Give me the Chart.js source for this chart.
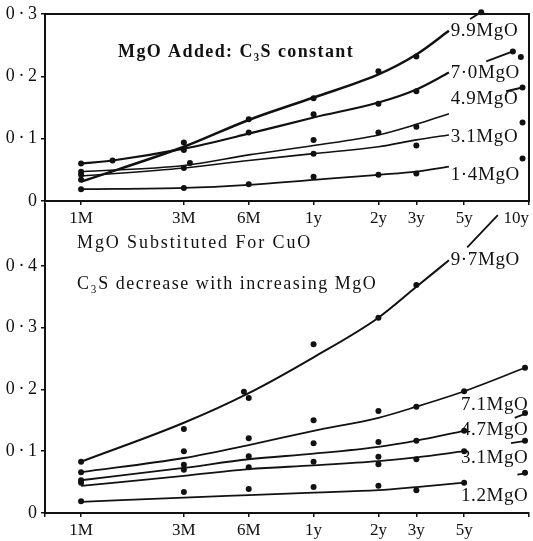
<!DOCTYPE html>
<html>
<head>
<meta charset="utf-8">
<script src="https://cdn.jsdelivr.net/npm/chart.js@4.4.0/dist/chart.umd.min.js"></script>
<style>
  body { margin: 0; background: #fff; }
  #wrap { position: relative; width: 533px; height: 541px; }
  #topChart { position: absolute; left: 0; top: 0; }
  #bottomChart { position: absolute; left: 0; top: 200px; }
</style>
</head>
<body>
<div id="wrap">
  <canvas id="bottomChart" width="533" height="341"></canvas>
  <canvas id="topChart" width="533" height="228"></canvas>
</div>
<script>
// time axis (months, log scale); first tick is the empty axis start
const xTickMonths = [0.68, 1, 3, 6, 12, 24, 36, 60, 120];
const topTickLabels = ['', '1M', '3M', '6M', '1y', '2y', '3y', '5y', '10y'];
const bottomTickLabels = ['', '1M', '3M', '6M', '1y', '2y', '3y', '5y', ''];
const topYTicks = [0, 0.1, 0.2, 0.3];
const bottomYTicks = [0, 0.1, 0.2, 0.3, 0.4];

// top panel: MgO added, C3S constant
const topNames = ['9.9MgO', '7·0MgO', '4.9MgO', '3.1MgO', '1·4MgO'];
const topDots99 = [[1, 0.034], [3, 0.094], [6, 0.131], [12, 0.165], [24, 0.208], [36, 0.232], [72, 0.303]];
const topDots70 = [[1, 0.060], [1.4, 0.065], [3, 0.082], [6, 0.110], [12, 0.139], [24, 0.156], [36, 0.176], [101, 0.240], [110, 0.231]];
const topDots49 = [[1, 0.047], [3.2, 0.061], [12, 0.098], [24, 0.110], [36, 0.119], [112, 0.182]];
const topDots31 = [[1, 0.042], [3, 0.053], [12, 0.076], [36, 0.089], [112, 0.126]];
const topDots14 = [[1, 0.019], [3, 0.021], [6, 0.027], [12, 0.039], [24, 0.042], [36, 0.044], [112, 0.068]];
const topCurve99 = [[1, 0.031], [3, 0.087], [6, 0.130], [12, 0.166], [24, 0.203], [36, 0.235], [51, 0.273]];
const topCurve70 = [[1, 0.060], [1.4, 0.065], [3, 0.084], [6, 0.108], [12, 0.134], [24, 0.158], [36, 0.179], [51, 0.206]];
const topCurve49 = [[1, 0.047], [3, 0.057], [6, 0.074], [12, 0.089], [24, 0.106], [36, 0.123], [51, 0.140]];
const topCurve31 = [[1, 0.040], [3, 0.053], [6, 0.065], [12, 0.076], [24, 0.087], [36, 0.098], [51, 0.106]];
const topCurve14 = [[1, 0.019], [3, 0.021], [6, 0.026], [12, 0.034], [24, 0.042], [36, 0.047], [51, 0.055]];
const topTail99 = [[64, 0.292], [72, 0.303]];
const topTail70 = [[76, 0.224], [101, 0.240]];
const topTail49 = [[94, 0.176], [112, 0.182]];

// bottom panel: MgO substituted for CuO
const bottomNames = ['9·7MgO', '7.1MgO', '4.7MgO', '3.1MgO', '1.2MgO'];
const botDots97 = [[1, 0.083], [3, 0.136], [5.7, 0.196], [6, 0.186], [12, 0.273], [24, 0.316], [36, 0.369]];
const botDots71 = [[1, 0.066], [3, 0.100], [6, 0.121], [12, 0.150], [24, 0.165], [36, 0.172], [60, 0.197], [115, 0.235]];
const botDots47 = [[1, 0.053], [3, 0.078], [6, 0.092], [12, 0.113], [24, 0.115], [36, 0.117], [60, 0.133], [115, 0.162]];
const botDots31 = [[1, 0.049], [3, 0.070], [6, 0.074], [12, 0.083], [24, 0.091], [24, 0.079], [36, 0.087], [60, 0.100], [115, 0.117]];
const botDots12 = [[1, 0.019], [3, 0.034], [6, 0.039], [12, 0.042], [24, 0.044], [36, 0.037], [60, 0.049], [115, 0.065]];
const botCurve97 = [[1, 0.083], [3, 0.146], [6, 0.194], [12, 0.252], [24, 0.316], [36, 0.366], [51, 0.409]];
const botCurve71 = [[1, 0.066], [3, 0.089], [6, 0.110], [12, 0.133], [24, 0.154], [36, 0.172], [60, 0.197], [115, 0.235]];
const botCurve47 = [[1, 0.053], [3, 0.073], [6, 0.087], [12, 0.096], [24, 0.107], [36, 0.117], [60, 0.133]];
const botCurve31 = [[1, 0.044], [3, 0.060], [6, 0.071], [12, 0.077], [24, 0.084], [36, 0.090], [60, 0.100]];
const botCurve12 = [[1, 0.018], [3, 0.025], [6, 0.029], [12, 0.033], [24, 0.037], [36, 0.042], [60, 0.049]];
const botTail97 = [[62, 0.430], [86, 0.482]];
const botTail47 = [[103, 0.154], [118, 0.162]];
const botTail31 = [[99, 0.113], [118, 0.117]];
const botTail12 = [[106, 0.062], [118, 0.065]];

const INK = '#111';
const SERIF = '"Liberation Serif", "DejaVu Serif", serif';

function toXY(points) {
    return points.map(p => ({ x: p[0], y: p[1] }));
}

function curve(points, width) {
    return {
        data: toXY(points), borderColor: INK, borderWidth: width,
        pointRadius: 0, cubicInterpolationMode: 'monotone', fill: false, clip: false
    };
}

function dots(points) {
    return {
        data: toXY(points), showLine: false, pointRadius: 3,
        pointBackgroundColor: INK, pointBorderWidth: 0, clip: false
    };
}

function fmtY(v) {
    return v === 0 ? '0' : v.toFixed(1).replace('.', '\u2009·\u2009');
}

// texts and frame drawn on top of the plot
const notes = {
    id: 'notes',
    afterDraw(chart, args, opts) {
        const { ctx, chartArea, scales } = chart;
        ctx.save();
        if (opts.frame) {
            ctx.strokeStyle = INK;
            ctx.lineWidth = 2;
            ctx.strokeRect(chartArea.left, chartArea.top, chartArea.right - chartArea.left, chartArea.bottom - chartArea.top);
        }
        ctx.fillStyle = INK;
        ctx.textBaseline = 'middle';
        ctx.textAlign = 'left';
        (opts.titles || []).forEach(t => {
            ctx.font = t.font;
            ctx.letterSpacing = t.spacing;
            ctx.fillText(t.text, t.x, t.y);
        });
        ctx.font = '19px ' + SERIF;
        ctx.letterSpacing = '0.6px';
        opts.names.forEach((name, i) => {
            const at = opts.nameAt[i];
            ctx.fillText(name, scales.x.getPixelForValue(at[0]), scales.y.getPixelForValue(at[1]));
        });
        ctx.restore();
    }
};

function axes(yMax, yTicks, tickLabels, xHeight) {
    return {
        x: {
            type: 'logarithmic', min: 0.68, max: 120,
            afterBuildTicks: s => { s.ticks = xTickMonths.map(v => ({ value: v })); },
            afterFit: s => { s.height = xHeight; s.paddingLeft = 0; s.paddingRight = 0; },
            ticks: {
                autoSkip: false, maxRotation: 0, padding: 3, color: INK, align: 'inner',
                font: { family: SERIF, size: 17 },
                callback: (v, i) => tickLabels[i]
            },
            grid: { drawOnChartArea: false, tickLength: 4, color: INK, lineWidth: 1.5 },
            border: { color: INK, width: 2 }
        },
        y: {
            min: 0, max: yMax,
            afterBuildTicks: s => { s.ticks = yTicks.map(v => ({ value: v })); },
            afterFit: s => { s.width = 45; s.paddingTop = 0; s.paddingBottom = 0; },
            ticks: {
                padding: 4, color: INK,
                font: { family: SERIF, size: 18 },
                callback: v => fmtY(v)
            },
            grid: { drawOnChartArea: false, tickLength: 4, color: INK, lineWidth: 1.5 },
            border: { color: INK, width: 2 }
        }
    };
}

new Chart(document.getElementById('topChart'), {
    type: 'line',
    data: {
        datasets: [
            curve(topCurve99, 2.5), curve(topCurve70, 2.2), curve(topCurve49, 1.6),
            curve(topCurve31, 1.6), curve(topCurve14, 1.8),
            curve(topTail99, 2), curve(topTail70, 2), curve(topTail49, 2),
            dots(topDots99), dots(topDots70), dots(topDots49), dots(topDots31), dots(topDots14)
        ]
    },
    options: {
        responsive: false, animation: false, devicePixelRatio: 1,
        layout: { padding: { top: 14, right: 2, left: 0, bottom: 0 } },
        plugins: {
            legend: { display: false }, tooltip: { enabled: false },
            notes: {
                frame: true,
                titles: [{ text: 'MgO Added: C\u2083S constant', x: 118, y: 52, font: 'bold 18px ' + SERIF, spacing: '1.4px' }],
                names: topNames,
                nameAt: [[52, 0.273], [52, 0.206], [52, 0.163], [52, 0.103], [52, 0.042]]
            }
        },
        scales: axes(0.3, topYTicks, topTickLabels, 27)
    },
    plugins: [notes]
});

new Chart(document.getElementById('bottomChart'), {
    type: 'line',
    data: {
        datasets: [
            curve(botCurve97, 2), curve(botCurve71, 1.8), curve(botCurve47, 1.8),
            curve(botCurve31, 1.8), curve(botCurve12, 1.8),
            curve(botTail97, 1.8), curve(botTail47, 1.8), curve(botTail31, 1.8), curve(botTail12, 1.8),
            dots(botDots97), dots(botDots71), dots(botDots47), dots(botDots31), dots(botDots12)
        ]
    },
    options: {
        responsive: false, animation: false, devicePixelRatio: 1,
        layout: { padding: { top: 4, right: 2, left: 0, bottom: 0 } },
        plugins: {
            legend: { display: false }, tooltip: { enabled: false },
            notes: {
                frame: false,
                titles: [
                    { text: 'MgO Substituted For CuO', x: 77, y: 43, font: '18px ' + SERIF, spacing: '1.9px' },
                    { text: 'C\u2083S decrease with increasing MgO', x: 77, y: 84, font: '18px ' + SERIF, spacing: '1.5px' }
                ],
                names: bottomNames,
                nameAt: [[52, 0.409], [58, 0.175], [58, 0.134], [58, 0.089], [58, 0.028]]
            }
        },
        scales: axes(0.5, bottomYTicks, bottomTickLabels, 28)
    },
    plugins: [notes]
});
</script>
</body>
</html>
